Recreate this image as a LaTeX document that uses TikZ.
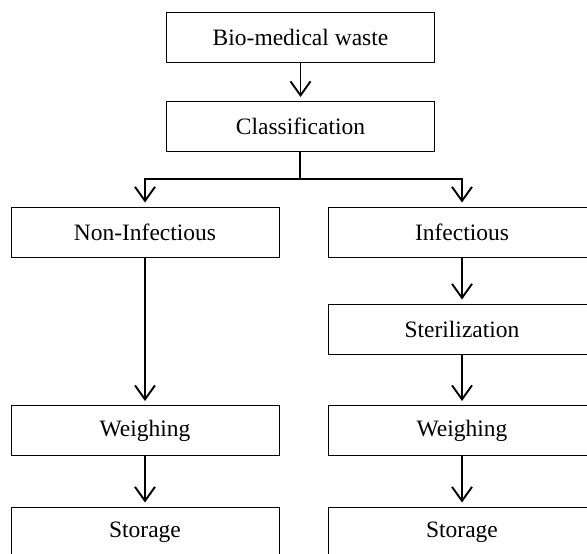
\documentclass[tikz,border=0pt]{standalone}
\usepackage{fontspec}
\setmainfont{Liberation Serif}
\usetikzlibrary{arrows.meta}
\tikzset{
  boxnode/.style={draw=black, line width=0.9pt, minimum width=268pt, minimum height=50pt,
    inner sep=0pt, outer sep=0pt, font=\fontsize{23.5}{28}\selectfont},
  arr/.style={line width=1.9pt, -{Straight Barb[length=14pt,width=20pt,line width=1.9pt]},
    shorten >=4.5pt},
  stemline/.style={line width=2.2pt}
}
\begin{document}
\begin{tikzpicture}[x=1pt,y=-1pt]
\useasboundingbox (0,0) rectangle (587,554);
\clip (0,0) rectangle (587,554);
\node[boxnode] (b1) at (300.5,37) {Bio-medical waste};
\node[boxnode] (b2) at (300.5,126.5) {Classification};
\node[boxnode] (ni) at (145,232) {Non-Infectious};
\node[boxnode] (inf) at (462,232) {Infectious};
\node[boxnode] (st) at (462,329) {Sterilization};
\node[boxnode] (w1) at (145,430.5) {Weighing};
\node[boxnode] (w2) at (462,430.5) {Weighing};
\node[boxnode] (s1) at (145,532) {Storage};
\node[boxnode] (s2) at (462,532) {Storage};
\coordinate (bar) at (300,179);
\draw[arr] (b1) -- (b2);
\draw[stemline] (b2.south -| bar) -- (bar);
\draw[arr] (bar) -| (ni.north);
\draw[arr] (bar) -| (inf.north);
\draw[arr] (ni) -- (w1);
\draw[arr] (w1) -- (s1);
\draw[arr] (inf) -- (st);
\draw[arr] (st) -- (w2);
\draw[arr] (w2) -- (s2);
\end{tikzpicture}
\end{document}
